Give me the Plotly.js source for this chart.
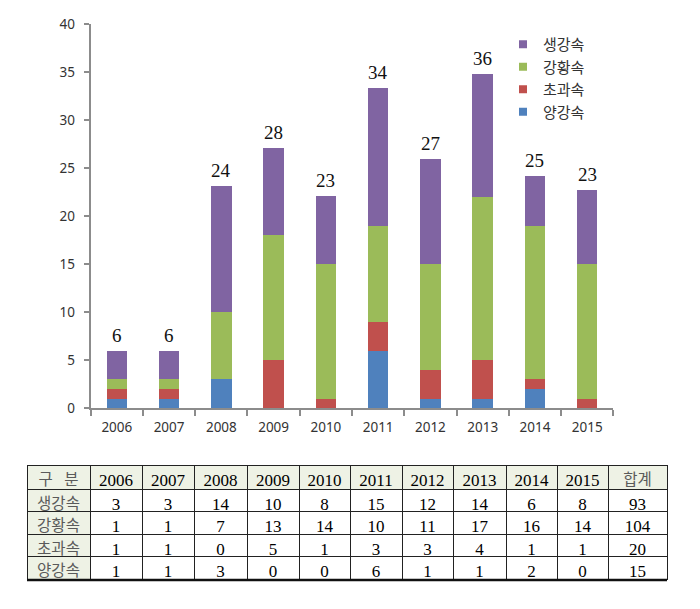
<!DOCTYPE html>
<html>
<head>
<meta charset="utf-8">
<script src="https://cdn.plot.ly/plotly-3.0.1.min.js"></script>
<style>html,body{margin:0;padding:0;background:#fff;}#chart{width:700px;height:609px;}</style>
</head>
<body>
<div id="chart"></div>
<script>
// ---- data ----
var years = ['2006','2007','2008','2009','2010','2011','2012','2013','2014','2015'];
var seriesNames = ['생강속','강황속','초과속','양강속'];
// table values
var tblSaeng = [3,3,14,10,8,15,12,14,6,8];
var tblGang  = [1,1,7,13,14,10,11,17,16,14];
var tblCho   = [1,1,0,5,1,3,3,4,1,1];
var tblYang  = [1,1,3,0,0,6,1,1,2,0];
// bar heights as drawn in the chart (purple segments)
var barSaeng = [3,3,13.1,9.1,7.1,14.3,11,12.8,5.2,7.7];
var barGang  = [1,1,7,13,14,10,11,17,16,14];
var barCho   = [1,1,0,5,1,3,3,4,1,1];
var barYang  = [1,1,3,0,0,6,1,1,2,0];
var colors = {saeng:'#8064A2', gang:'#9BBB59', cho:'#C0504D', yang:'#4F81BD'};

// ---- derived ----
var idx = years.map(function(_,i){return i;});
var totals = years.map(function(_,i){return tblSaeng[i]+tblGang[i]+tblCho[i]+tblYang[i];});
var barTops = years.map(function(_,i){return barSaeng[i]+barGang[i]+barCho[i]+barYang[i];});
function sum(a){return a.reduce(function(s,v){return s+v;},0);}

var W=700,H=609;
function px(x){return x/W;}
function py(y){return (H-y)/H;}

var barDefs = [
  {y:barYang, c:colors.yang, n:seriesNames[3]},
  {y:barCho, c:colors.cho, n:seriesNames[2]},
  {y:barGang, c:colors.gang, n:seriesNames[1]},
  {y:barSaeng, c:colors.saeng, n:seriesNames[0]}
];
var traces = barDefs.map(function(d){
  return {type:'bar', x:idx, y:d.y, name:d.n, marker:{color:d.c}, showlegend:false, width:0.39};
});
// legend entries (on a hidden helper axis)
[{c:colors.saeng,n:seriesNames[0]},{c:colors.gang,n:seriesNames[1]},{c:colors.cho,n:seriesNames[2]},{c:colors.yang,n:seriesNames[3]}].forEach(function(d){
  traces.push({type:'scatter', mode:'markers', x:[0.5], y:[-5], xaxis:'x2', yaxis:'y2', name:d.n,
    marker:{symbol:'square', size:8, color:d.c}, showlegend:true});
});

// table
var rowLabels = seriesNames.slice();
var tblRows = [tblSaeng, tblGang, tblCho, tblYang];
var cellCols = [rowLabels];
years.forEach(function(_,i){ cellCols.push(tblRows.map(function(r){return String(r[i]);})); });
cellCols.push(tblRows.map(function(r){return String(sum(r));}));
var headerVals = ['구\u00a0\u00a0\u00a0분'].concat(years).concat(['합계']);
var colW = [63,52,52,53,52,51,52,51,53,51,51,59];
var shade = '#EEF2E5';
var cellFill = colW.map(function(_,i){ return i===0 ? shade : '#ffffff'; });
var cellFontColor = colW.map(function(_,i){ return i===0 ? '#5a5a5a' : '#000000'; });
var cellFontSize = colW.map(function(_,i){ return i===0 ? 15.5 : 17; });
var headerFontColor = colW.map(function(_,i){ return (i===0||i===colW.length-1) ? '#5a5a5a' : '#000000'; });
var headerFontSize = colW.map(function(_,i){ return (i===0||i===colW.length-1) ? 15.5 : 17; });

traces.push({
  type:'table',
  domain:{x:[px(27),px(667)], y:[py(582),py(465)]},
  columnwidth: colW,
  header:{values:headerVals, height:24, align:'center',
    fill:{color:shade}, line:{color:'#222', width:1},
    font:{family:'Liberation Serif, Noto Sans CJK KR', size:headerFontSize, color:headerFontColor}},
  cells:{values:cellCols, height:22.5, align:'center',
    fill:{color:cellFill}, line:{color:'#222', width:1},
    font:{family:'Liberation Serif, Noto Sans CJK KR', size:cellFontSize, color:cellFontColor}}
});

var annotations = idx.map(function(i){
  return {x:i, y:barTops[i], xref:'x', yref:'y', text:String(totals[i]), showarrow:false,
    yanchor:'bottom', yshift:3, font:{family:'Liberation Serif', size:19, color:'#111'}};
});

var layout = {
  width:W, height:H, margin:{l:0,r:0,t:0,b:0},
  paper_bgcolor:'#fff', plot_bgcolor:'rgba(0,0,0,0)',
  barmode:'stack',
  font:{family:'Noto Sans, Noto Sans CJK KR', color:'#404040'},
  xaxis:{type:'linear', range:[-0.5,9.5], domain:[px(90.7),px(613.3)], tickmode:'array', tickvals:idx, ticktext:years,
    ticks:'', showline:true, linecolor:'#8c8c8c', linewidth:2, showgrid:false, zeroline:false, ticklabelstandoff:5,
    minor:{ticks:'outside', tickmode:'linear', tick0:-0.5, dtick:1, ticklen:6, tickcolor:'#8c8c8c', tickwidth:2, showgrid:false},
    tickfont:{size:13.5, color:'#333'}, tickangle:0, fixedrange:true},
  yaxis:{range:[0,40], dtick:5, domain:[py(408.3),py(24)], ticks:'outside', ticklen:5, tickcolor:'#8c8c8c',
    tickwidth:2, showline:true, linecolor:'#8c8c8c', linewidth:2, showgrid:false, zeroline:false,
    tickfont:{size:13.5, color:'#333'}, ticklabelstandoff:6, fixedrange:true},
  xaxis2:{visible:false, domain:[0,0.01], anchor:'y2', range:[0,1]},
  yaxis2:{visible:false, domain:[0,0.01], anchor:'x2', range:[0,1]},
  showlegend:true,
  legend:{x:px(503), y:py(28), xanchor:'left', yanchor:'top', bgcolor:'rgba(0,0,0,0)', traceorder:'normal',
    font:{family:'Noto Sans CJK KR', size:15, color:'#333'}, tracegroupgap:0},
  annotations:annotations,
  shapes:[
    {type:'line', xref:'paper', yref:'paper', x0:px(27), x1:px(667), y0:py(580), y1:py(580), line:{color:'#111', width:2.5}}
  ]
};
Plotly.newPlot('chart', traces, layout, {displayModeBar:false, staticPlot:true});
</script>
</body>
</html>
